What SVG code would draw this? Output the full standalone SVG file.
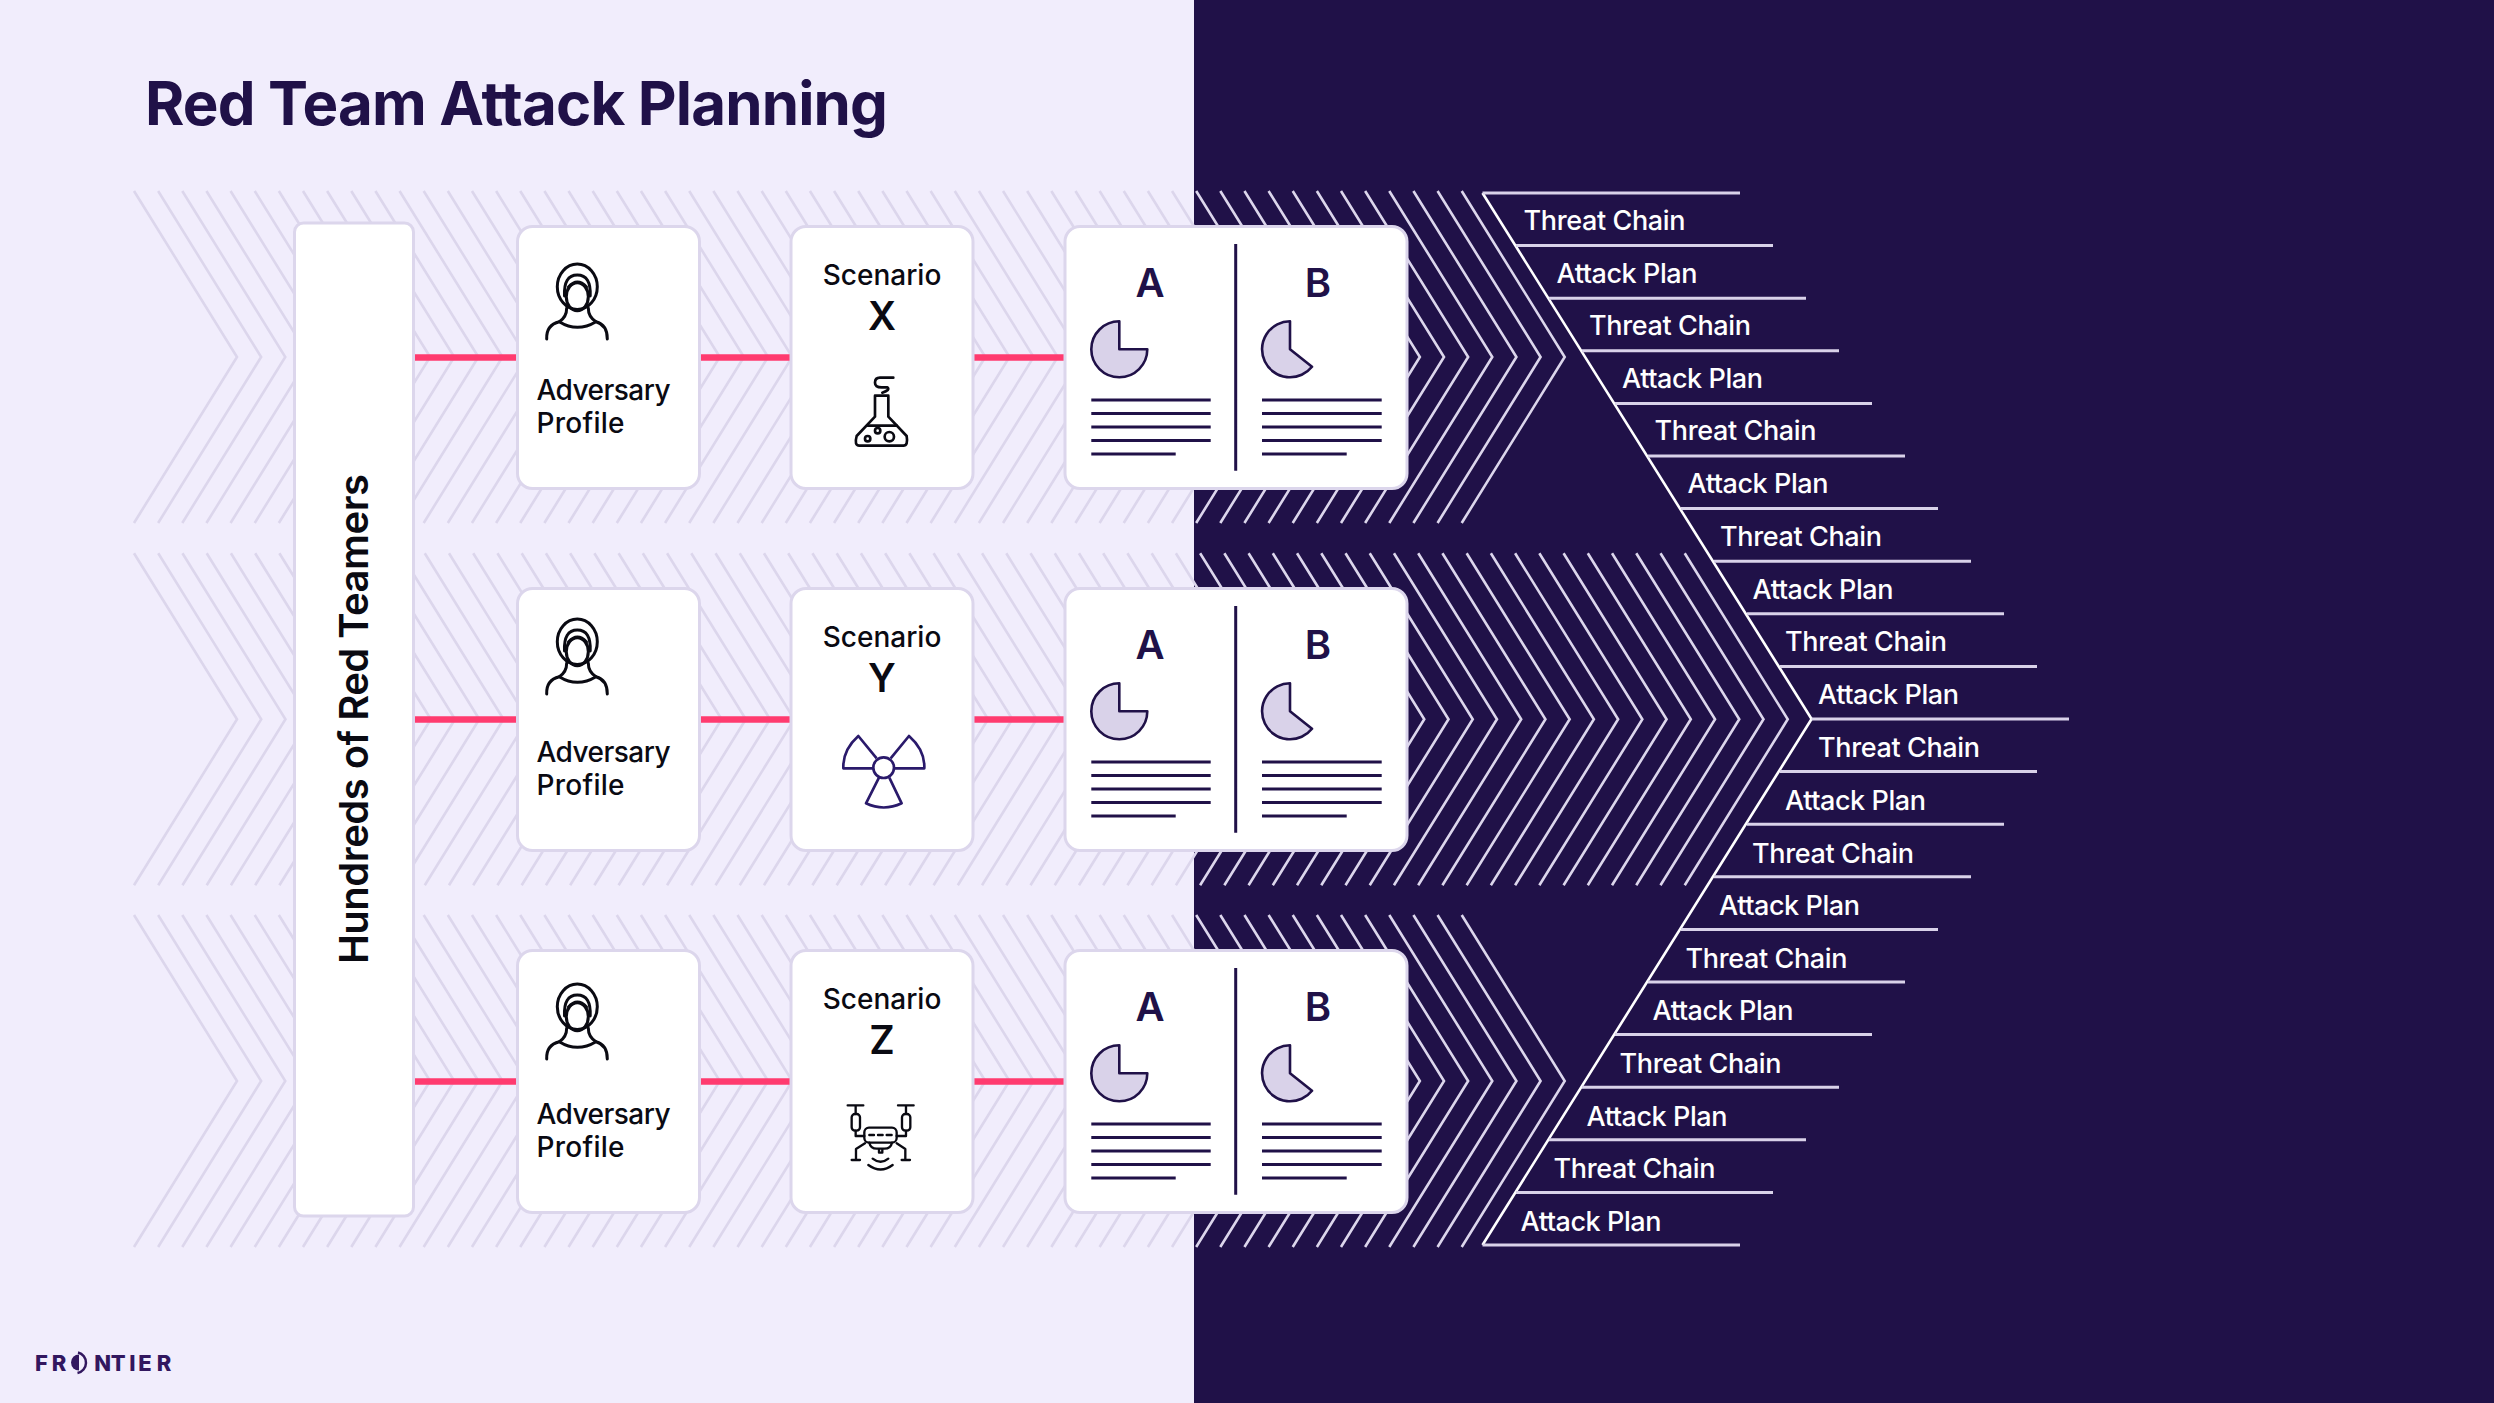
<svg xmlns="http://www.w3.org/2000/svg" width="2494" height="1403" viewBox="0 0 2494 1403">
<style>
text{font-family:"Inter","Liberation Sans",sans-serif}
.card{fill:#fff;stroke:#DCD6EC;stroke-width:3}
.chev{fill:none;stroke:#DCD6EC;stroke-width:2.6}
.link{stroke:#FF3B6F;stroke-width:6.4;fill:none}
.body{font-size:28px;font-weight:500;fill:#0a0a12}
.sc{font-size:28px;font-weight:500;fill:#0a0a12;text-anchor:middle}
.sl{font-size:39px;font-weight:600;fill:#0a0a12;text-anchor:middle}
.ab{font-size:40px;font-weight:600;fill:#201148;text-anchor:middle}
.tail{stroke:#D9D2E9;stroke-width:3;fill:none}
.lab{font-size:27px;font-weight:500;fill:#fff}
.ink{stroke:#201148;stroke-width:3;fill:none}
.pie{stroke:#201148;stroke-width:2.6;fill:#D9D2E9;stroke-linejoin:round}
.ico{stroke:#0a0a12;stroke-width:3;fill:none;stroke-linecap:round;stroke-linejoin:round}
</style>
<defs>
<path id="c1" class="chev" d="M134 0L237 166L134 332"/>
<g id="a2"><use href="#c1"/><use href="#c1" x="24.14"/></g>
<g id="a4"><use href="#a2"/><use href="#a2" x="48.28"/></g>
<g id="a8"><use href="#a4"/><use href="#a4" x="96.56"/></g>
<g id="a16"><use href="#a8"/><use href="#a8" x="193.12"/></g>
<g id="a32"><use href="#a16"/><use href="#a16" x="386.24"/></g>
<g id="a56"><use href="#a32"/><use href="#a16" x="772.48"/><use href="#a8" x="1158.72"/></g>
<g id="b2"><use href="#c1"/><use href="#c1" x="24.23"/></g>
<g id="b4"><use href="#b2"/><use href="#b2" x="48.46"/></g>
<g id="b8"><use href="#b4"/><use href="#b4" x="96.92"/></g>
<g id="b16"><use href="#b8"/><use href="#b8" x="193.84"/></g>
<g id="b32"><use href="#b16"/><use href="#b16" x="387.68"/></g>
<g id="person" class="ico">
<ellipse cx="57.3" cy="46.7" rx="20" ry="22.7"/>
<ellipse cx="57.3" cy="56.7" rx="11" ry="14"/>
<path d="M44.5 56Q43.5 35 57.3 35Q71.2 35 70.2 56"/>
<path d="M48.5 47Q57.3 37 66.5 47"/>
<path d="M46.7 68Q46.7 77 39.3 81.7M68.3 68Q68.3 77 76 81.7"/>
<path d="M26.7 99Q26 85 39.3 81.7Q57.3 93 76 81.7Q87.5 85 87.3 99"/>
</g>
<g id="pies">
<path class="pie" d="M1119.3 349.3V321.3A28 28 0 1 0 1147.3 349.3Z"/>
<path class="pie" d="M1290 349.3V321.3A28 28 0 1 0 1312 366.7Z"/>
<path class="ink" d="M1091.3 400H1210.7M1091.3 413.5H1210.7M1091.3 427H1210.7M1091.3 440.5H1210.7M1091.3 454H1175.7M1262 400H1381.7M1262 413.5H1381.7M1262 427H1381.7M1262 440.5H1381.7M1262 454H1346.7M1235.7 244V470.7"/>
<text class="ab" x="1150" y="297">A</text>
<text class="ab" x="1318" y="297">B</text>
</g>
</defs>
<rect width="2494" height="1403" fill="#F1EDFC"/>
<rect x="1194" width="1300" height="1403" fill="#201148"/>
<g id="title"><text x="145" y="125" font-size="60" font-weight="700" fill="#201148" textLength="743" lengthAdjust="spacing">Red Team Attack Planning</text></g>
<g id="chevrons">
<use href="#a56" y="191"/>
<g transform="translate(0 553.3)"><use href="#b32"/><use href="#b32" x="775.36"/><use href="#c1" x="1550.72"/></g>
<use href="#a56" y="915"/>
</g>
<g id="connectors">
<path class="link" d="M413 357.500H517M699 357.500H791M973 357.500H1066"/>
<path class="link" d="M413 719.500H517M699 719.500H791M973 719.500H1066"/>
<path class="link" d="M413 1081.500H517M699 1081.500H791M973 1081.500H1066"/>
<path fill="none" stroke="#fff" stroke-width="2.6" d="M1482.500 193L1811.600 719L1482.500 1245"/>
<path class="tail" d="M1482.500 193H1740M1516 245.600H1773M1549 298.200H1806M1582 350.800H1839M1615 403.400H1872M1648 456H1905M1681 508.600H1938M1714 561.200H1971M1747 613.800H2004M1780 666.400H2037M1811.600 719H2069M1780 771.600H2037M1747 824.200H2004M1714 876.800H1971M1681 929.400H1938M1648 982H1905M1615 1034.600H1872M1582 1087.200H1839M1549 1139.800H1806M1516 1192.400H1773M1482.500 1245H1740"/>
</g>
<g id="red-teamers"><rect class="card" x="294.500" y="223" width="119" height="993" rx="9"/>
<text transform="translate(368 719) rotate(-90)" text-anchor="middle" font-size="40" font-weight="600" fill="#0a0a12" textLength="490" lengthAdjust="spacing">Hundreds of Red Teamers</text></g>
<g id="adversary-1"><rect class="card" x="517.500" y="226.500" width="182" height="262" rx="15"/>
<use href="#person" x="520" y="240"/>
<text class="body" x="536.500" y="400" textLength="134">Adversary</text><text class="body" x="536.500" y="432.500" textLength="88">Profile</text></g>
<g id="adversary-2"><rect class="card" x="517.500" y="588.500" width="182" height="262" rx="15"/>
<use href="#person" x="520" y="595"/>
<text class="body" x="536.500" y="762" textLength="134">Adversary</text><text class="body" x="536.500" y="794.500" textLength="88">Profile</text></g>
<g id="adversary-3"><rect class="card" x="517.500" y="950.500" width="182" height="262" rx="15"/>
<use href="#person" x="520" y="960"/>
<text class="body" x="536.500" y="1124" textLength="134">Adversary</text><text class="body" x="536.500" y="1156.500" textLength="88">Profile</text></g>
<g id="scenario-x"><rect class="card" x="791" y="226.500" width="182" height="262" rx="15"/>
<text class="sc" x="882" y="284.700">Scenario</text><text class="sl" x="882" y="329.700">X</text>
<g class="ico" transform="translate(800 340) scale(.3333)" style="stroke-width:8">
<path d="M280 113H240Q225 113 225 128Q225 142 245 142H262Q272 150 247 158"/>
<path d="M225 167H265V230L320 288Q325 317 310 317H178Q162 317 170 288L225 230Z"/>
<path d="M203 257H290"/>
<circle cx="233" cy="272" r="8"/><circle cx="203" cy="296" r="8"/><circle cx="268" cy="290" r="14"/>
</g></g>
<g id="scenario-y"><rect class="card" x="791" y="588.500" width="182" height="262" rx="15"/>
<text class="sc" x="882" y="646.700">Scenario</text><text class="sl" x="882" y="691.700">Y</text>
<g transform="translate(780 600) scale(.3333)" fill="none" stroke="#2A1A6B" stroke-width="8" stroke-linejoin="round">
<circle cx="311" cy="503" r="31"/>
<path d="M281 505H190Q188 450 235 408L290 475"/>
<path d="M342 505H433Q435 450 387 408L332 475"/>
<path d="M297 533L258 610Q311 635 365 610L328 533"/>
</g></g>
<g id="scenario-z"><rect class="card" x="791" y="950.500" width="182" height="262" rx="15"/>
<text class="sc" x="882" y="1008.700">Scenario</text><text class="sl" x="882" y="1053.700">Z</text>
<g class="ico" transform="translate(780 1050) scale(.3333)" style="stroke-width:7">
<path d="M203 166H250M354 166H401M227 166V192M378 166V192"/>
<rect x="215" y="192" width="25" height="50" rx="10"/><rect x="366" y="192" width="25" height="50" rx="10"/>
<path d="M227 242V258H253M378 242V258H350"/>
<rect x="253" y="233" width="97" height="45" rx="14"/>
<path d="M268 255H282M294 255H308M320 255H335"/>
<path d="M268 278Q272 296 290 296H314Q332 296 336 278M297 296V308H307V296"/>
<path d="M255 280L228 297V330M350 280L376 297V330M215 330H240M365 330H390"/>
<path d="M278 326Q302 345 325 326M265 345Q302 372 338 345"/>
</g></g>
<g id="plans-x"><rect class="card" x="1065" y="226.500" width="342" height="262" rx="15"/><use href="#pies"/></g>
<g id="plans-y"><rect class="card" x="1065" y="588.500" width="342" height="262" rx="15"/><use href="#pies" y="362"/></g>
<g id="plans-z"><rect class="card" x="1065" y="950.500" width="342" height="262" rx="15"/><use href="#pies" y="724"/></g>
<g id="labels">
<text class="lab" x="1523.500" y="229.500" textLength="162">Threat Chain</text>
<text class="lab" x="1556.500" y="282.500" textLength="141">Attack Plan</text>
<text class="lab" x="1589" y="334.500" textLength="162">Threat Chain</text>
<text class="lab" x="1622" y="387.500" textLength="141">Attack Plan</text>
<text class="lab" x="1654.500" y="440" textLength="162">Threat Chain</text>
<text class="lab" x="1687.500" y="493" textLength="141">Attack Plan</text>
<text class="lab" x="1720" y="545.500" textLength="162">Threat Chain</text>
<text class="lab" x="1752.500" y="598.500" textLength="141">Attack Plan</text>
<text class="lab" x="1785" y="651" textLength="162">Threat Chain</text>
<text class="lab" x="1818" y="703.500" textLength="141">Attack Plan</text>
<text class="lab" x="1818" y="757" textLength="162">Threat Chain</text>
<text class="lab" x="1785" y="810" textLength="141">Attack Plan</text>
<text class="lab" x="1752" y="862.500" textLength="162">Threat Chain</text>
<text class="lab" x="1719" y="915" textLength="141">Attack Plan</text>
<text class="lab" x="1685.500" y="967.500" textLength="162">Threat Chain</text>
<text class="lab" x="1652.500" y="1020" textLength="141">Attack Plan</text>
<text class="lab" x="1619.500" y="1073" textLength="162">Threat Chain</text>
<text class="lab" x="1586.500" y="1125.500" textLength="141">Attack Plan</text>
<text class="lab" x="1553.500" y="1178" textLength="162">Threat Chain</text>
<text class="lab" x="1520.500" y="1230.500" textLength="141">Attack Plan</text>
</g>
<g id="logo" fill="#32175F">
<text y="1371" font-size="22" font-weight="800"><tspan x="35 51.700">FR</tspan><tspan x="70" fill="none">O</tspan><tspan x="94.300 110.700 129.300 138.300 156.700">NTIER</tspan></text>
<path d="M79 1354.500A8 8 0 0 0 79 1370.500Z"/>
<path d="M78 1352.500A10.500 10.500 0 0 1 77.500 1373" fill="none" stroke="#32175F" stroke-width="2.500"/>
</g>
</svg>
